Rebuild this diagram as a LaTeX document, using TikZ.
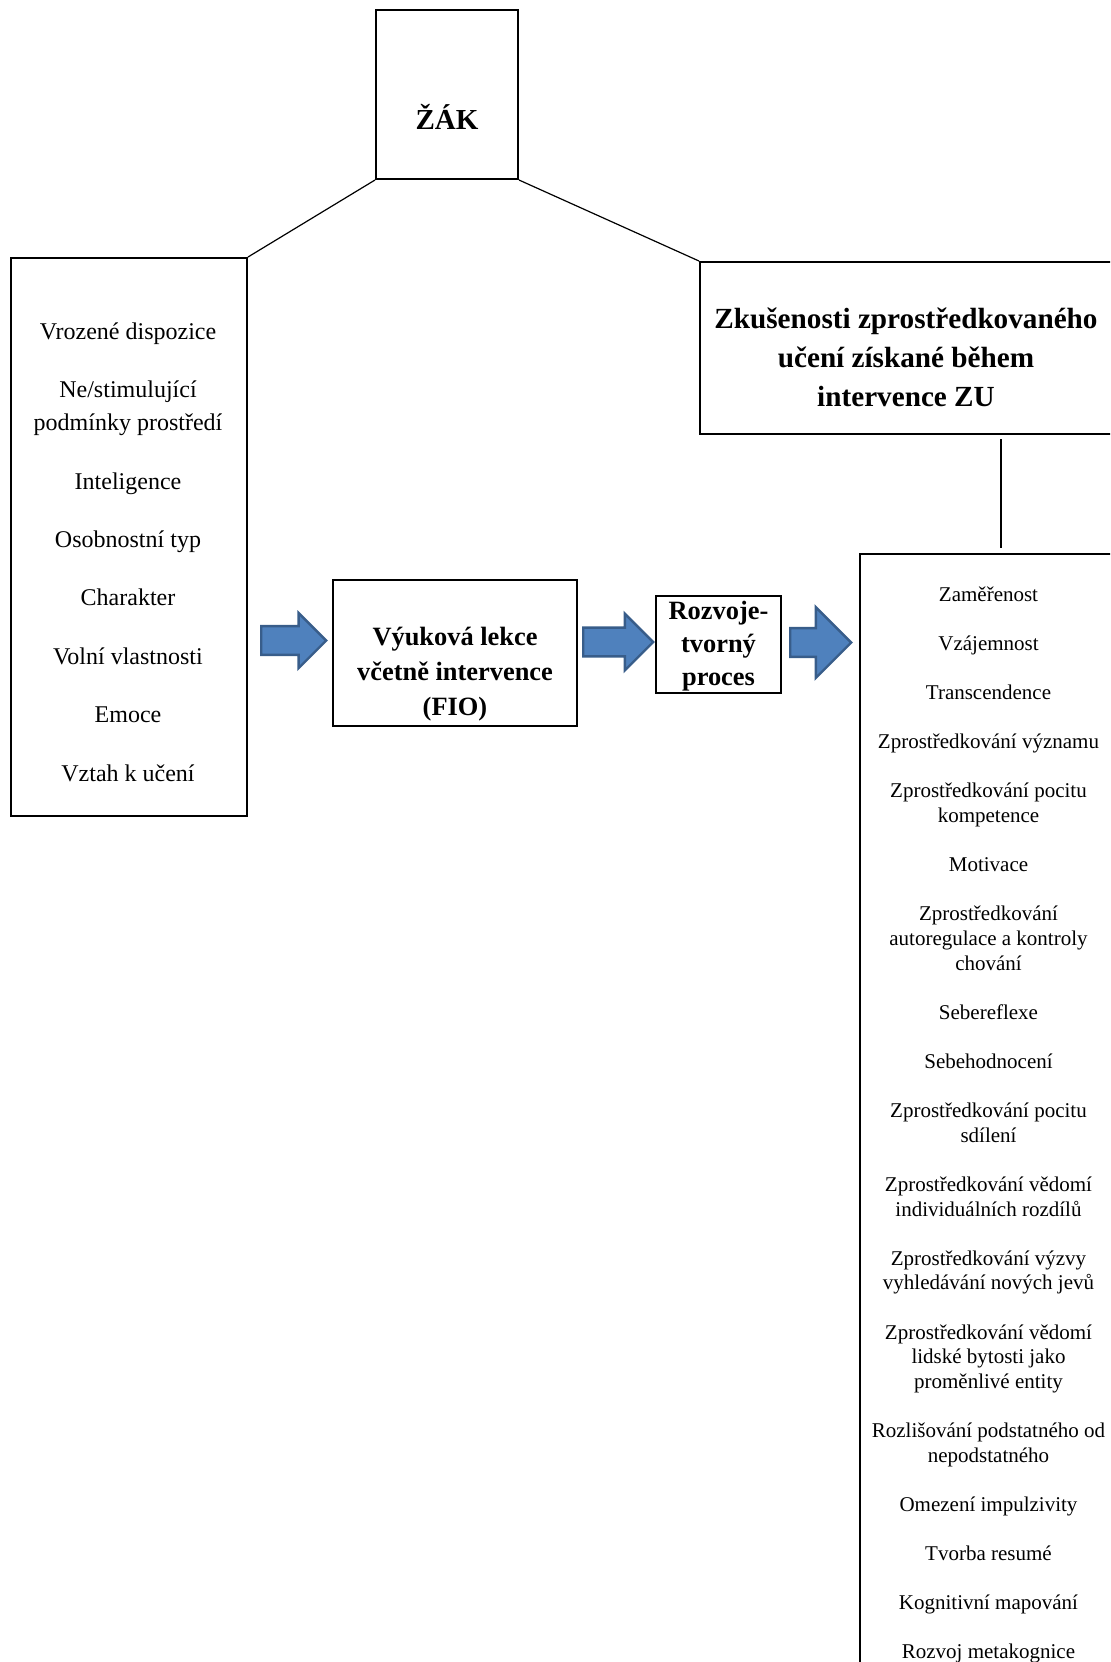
\documentclass[tikz,border=0pt]{standalone}
\usepackage{fontspec}
\setmainfont{Liberation Serif}
\usetikzlibrary{shapes.arrows, positioning}

\definecolor{arrowfill}{HTML}{4F81BD}
\definecolor{arrowedge}{HTML}{385D8A}

\begin{document}
\begin{tikzpicture}[
    x=0.5pt, y=-0.5pt,
    box/.style={rectangle, draw, line width=1pt, inner sep=0pt},
    title/.style={align=center, inner sep=0pt},
    list/.style={align=center, inner sep=0pt},
    blockarrow/.style={single arrow, draw=arrowedge, fill=arrowfill, line width=1.2pt, inner xsep=0pt, inner ysep=6.6pt, single arrow head extend=#1, anchor=tail},
    link/.style={line width=0.6pt}
]
\useasboundingbox (0,0) rectangle (1110,1662);
\clip (0,0) rectangle (1110,1662);

% Žák
\node (zak) [box, minimum width=71pt, minimum height=84.5pt] at (447,94.5) {};
\node (zaktext) [title, font=\fontsize{14.5}{17}\selectfont\bfseries] at (447,117) {ŽÁK};

% Vnitřní a vnější faktory
\node (factors) [box, minimum width=118pt, minimum height=279pt] at (129,537) {};
\node (factorlist) [list, font=\fontsize{12}{16.5}\selectfont] at (128,552) {Vrozené dispozice\\[12.7pt]Ne/stimulující\\podmínky prostředí\\[12.7pt]Inteligence\\[12.7pt]Osobnostní typ\\[12.7pt]Charakter\\[12.7pt]Volní vlastnosti\\[12.7pt]Emoce\\[12.7pt]Vztah k učení};

% Zkušenosti ZU
\node (experience) [box, minimum width=206pt, minimum height=86pt] at (906,348) {};
\node (experiencetext) [title, font=\fontsize{14.6}{19.5}\selectfont\bfseries] at (906,357) {Zkušenosti zprostředkovaného\\učení získané během\\intervence ZU};

% Výuka a proces
\node (lesson) [box, minimum width=122pt, minimum height=73pt] at (455,653) {};
\node (lessontext) [title, font=\fontsize{13.2}{17.5}\selectfont\bfseries] at (455,674) {Výuková lekce\\včetně intervence\\(FIO)};
\node (process) [box, minimum width=62.5pt, minimum height=48.5pt] at (718.5,644.5) {};
\node (processtext) [title, font=\fontsize{13.2}{16.4}\selectfont\bfseries] at (718.5,646) {Rozvoje-\\tvorný\\proces};

% Kritéria zprostředkování
\node (mediation) [box, minimum width=128.5pt, minimum height=573pt] at (988.5,1127) {};
\node (mediationlist) [list, font=\fontsize{10.5}{12.3}\selectfont] at (988.5,1125) {Zaměřenost\\[12.3pt]Vzájemnost\\[12.3pt]Transcendence\\[12.3pt]Zprostředkování významu\\[12.3pt]Zprostředkování pocitu\\kompetence\\[12.3pt]Motivace\\[12.3pt]Zprostředkování\\autoregulace a kontroly\\chování\\[12.3pt]Sebereflexe\\[12.3pt]Sebehodnocení\\[12.3pt]Zprostředkování pocitu\\sdílení\\[12.3pt]Zprostředkování vědomí\\individuálních rozdílů\\[12.3pt]Zprostředkování výzvy\\vyhledávání nových jevů\\[12.3pt]Zprostředkování vědomí\\lidské bytosti jako\\proměnlivé entity\\[12.3pt]Rozlišování podstatného od\\nepodstatného\\[12.3pt]Omezení impulzivity\\[12.3pt]Tvorba resumé\\[12.3pt]Kognitivní mapování\\[12.3pt]Rozvoj metakognice};

% Blokové šipky
\node (arrowa) [blockarrow=6.6pt, minimum height=32.5pt] at (260,640.5) {};
\node (arrowb) [blockarrow=7pt, minimum height=35pt] at (582,642) {};
\node (arrowc) [blockarrow=10.5pt, minimum height=30.5pt] at (789,642.5) {};

% Spojnice
\draw [link] (zak.south west) -- (factors.north east);
\draw [link] (zak.south east) -- (experience.north west);
\draw [link, shorten <=2pt, shorten >=2.5pt] ([xshift=47.5pt]experience.south) -- ([xshift=47.5pt]experience.south |- mediation.north);

\end{tikzpicture}
\end{document}
